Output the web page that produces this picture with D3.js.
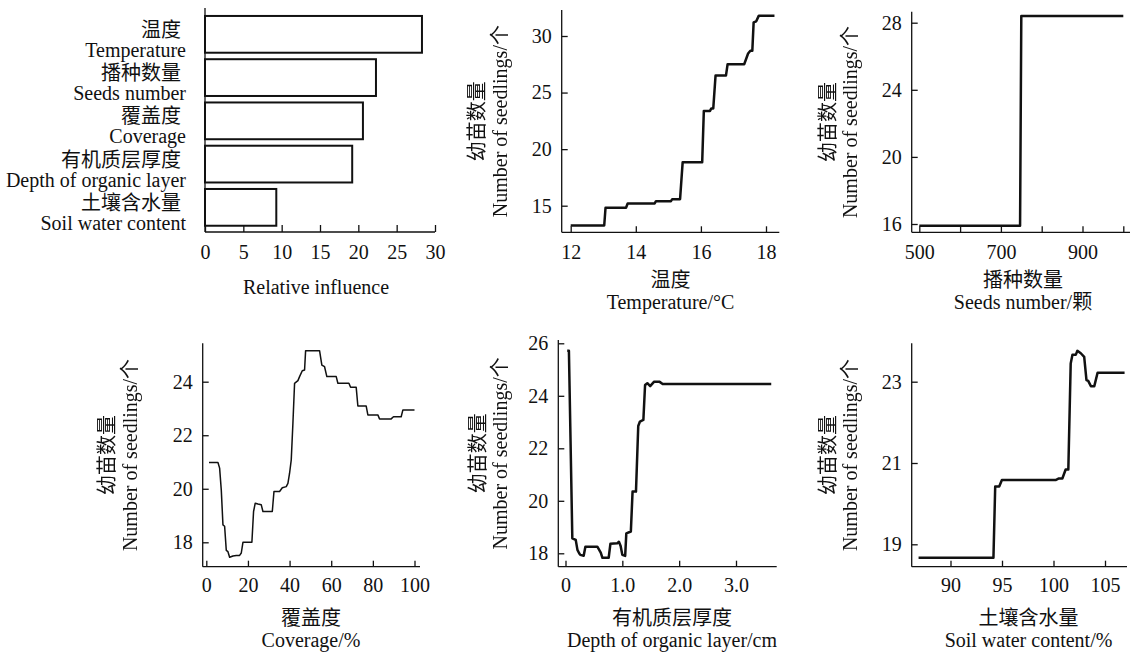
<!DOCTYPE html>
<html>
<head>
<meta charset="utf-8">
<script src="https://cdn.jsdelivr.net/npm/d3@7"></script>
<style>
body { margin: 0; background: #fff; }
svg text { font-family: "Liberation Serif", "Noto Sans CJK SC", serif; fill: #111; }
svg text.zh { font-family: "Noto Sans CJK SC", sans-serif; }
svg text.rot { filter: grayscale(100%); }
</style>
</head>
<body>
<div id="chart"></div>
<script>
// relative influence
var factorCn = ["温度", "播种数量", "覆盖度", "有机质层厚度", "土壤含水量"];
var factorEn = ["Temperature", "Seeds number", "Coverage", "Depth of organic layer", "Soil water content"];
var influence = [28.3, 22.3, 20.6, 19.2, 9.3];
var influenceTicks = [0, 5, 10, 15, 20, 25, 30];

// partial dependence curves
var tempX = [12.0, 13.03, 13.07, 13.7, 13.75, 14.58, 14.62, 15.08, 15.12, 15.36, 15.44, 16.04, 16.09, 16.28, 16.32, 16.38, 16.45, 16.77, 16.82, 17.33, 17.45, 17.52, 17.58, 17.62, 17.7, 17.78, 18.26];
var tempY = [13.25, 13.25, 14.82, 14.82, 15.2, 15.2, 15.4, 15.4, 15.58, 15.58, 18.85, 18.85, 23.38, 23.38, 23.6, 23.6, 26.5, 26.5, 27.5, 27.5, 28.45, 28.7, 28.7, 31.2, 31.3, 31.8, 31.8];

var seedsX = [500, 747, 750, 1000];
var seedsY = [15.9, 15.9, 28.4, 28.4];

var coverX = [1.3, 5.6, 6.4, 7.2, 8.0, 8.8, 9.6, 10.4, 11.2, 12.8, 14.4, 16, 16.8, 17.6, 21.9, 22.7, 23.5, 24.8, 26.4, 27.2, 31.7, 32.5, 35.2, 36.5, 38.4, 39.2, 40, 40.8, 41.6, 42.4, 44, 44.8, 46.1, 47.2, 47.7, 54.4, 55.5, 56.8, 57.9, 62.4, 63.2, 68.5, 69.3, 72, 72.8, 76.8, 77.6, 82.4, 83.2, 88.8, 89.9, 93.6, 94.4, 100];
var coverY = [20.98, 20.98, 20.77, 19.95, 18.65, 18.6, 17.7, 17.65, 17.44, 17.49, 17.51, 17.51, 17.6, 18.0, 18.0, 19.15, 19.46, 19.43, 19.4, 19.15, 19.15, 19.9, 19.9, 20.04, 20.08, 20.2, 20.58, 21.08, 22.45, 23.94, 24.04, 24.19, 24.41, 24.44, 25.16, 25.16, 24.62, 24.56, 24.19, 24.19, 23.94, 23.94, 23.79, 23.79, 23.09, 23.09, 22.76, 22.76, 22.61, 22.61, 22.69, 22.69, 22.94, 22.94];

var depthX = [0.03, 0.06, 0.12, 0.18, 0.21, 0.24, 0.26, 0.32, 0.35, 0.56, 0.62, 0.65, 0.76, 0.79, 0.91, 0.94, 0.97, 1.0, 1.05, 1.07, 1.15, 1.18, 1.24, 1.28, 1.31, 1.37, 1.4, 1.44, 1.49, 1.56, 1.65, 1.71, 3.62];
var depthY = [25.72, 25.72, 18.57, 18.51, 18.13, 18.0, 17.94, 17.91, 18.25, 18.25, 18.03, 17.83, 17.83, 18.36, 18.38, 18.44, 18.28, 17.94, 17.9, 18.76, 18.83, 20.35, 20.35, 22.85, 23.02, 23.08, 24.41, 24.48, 24.37, 24.54, 24.54, 24.45, 24.45];

var waterX = [86.9, 94.17, 94.34, 94.73, 94.99, 100.2, 100.53, 100.86, 101.18, 101.44, 101.67, 101.84, 102.16, 102.32, 102.65, 102.98, 103.2, 103.37, 103.63, 103.96, 104.28, 106.9];
var waterY = [18.67, 18.67, 20.42, 20.42, 20.58, 20.58, 20.62, 20.62, 20.84, 20.84, 23.45, 23.66, 23.66, 23.76, 23.7, 23.61, 23.04, 23.02, 22.89, 22.89, 23.22, 23.22];

var yLabelCn = "幼苗数量";
var yLabelEn = "Number of seedlings/个";

var w = 1131, h = 653;
var fs = 20;
var ink = "#111";

var svg = d3.select("#chart")
            .append("svg")
            .attr("width", w)
            .attr("height", h);

function styleAxis(sel) {
    sel.select(".domain").remove();
    sel.selectAll(".tick line").attr("stroke", ink).attr("stroke-width", 1.3);
    sel.selectAll(".tick text").attr("font-size", fs).attr("fill", ink)
       .style("font-family", '"Liberation Serif", serif');
}

function axisLine(x1, y1, x2, y2) {
    svg.append("line")
       .attr("x1", x1).attr("y1", y1).attr("x2", x2).attr("y2", y2)
       .attr("stroke", ink).attr("stroke-width", 1.3);
}

// ---------- panel 1: bar chart ----------
var bx = d3.scaleLinear().domain([0, 30]).range([205, 435]);
var by = d3.scaleBand()
           .domain(d3.range(factorCn.length))
           .range([12.5, 229.2])
           .paddingInner(0.15)
           .paddingOuter(0.08);

svg.selectAll("rect.bar")
   .data(influence)
   .enter()
   .append("rect")
   .attr("class", "bar")
   .attr("x", bx(0))
   .attr("y", function(d, i) { return by(i); })
   .attr("width", function(d) { return bx(d) - bx(0); })
   .attr("height", by.bandwidth())
   .attr("fill", "#fff")
   .attr("stroke", ink)
   .attr("stroke-width", 2);

svg.selectAll("text.cn")
   .data(factorCn)
   .enter()
   .append("text")
   .attr("class", "cn zh")
   .attr("x", 181)
   .attr("y", function(d, i) { return by(i) + by.bandwidth() / 2 - 5; })
   .attr("dy", "0.38em")
   .attr("text-anchor", "end")
   .attr("font-size", fs)
   .text(function(d) { return d; });

svg.selectAll("text.en")
   .data(factorEn)
   .enter()
   .append("text")
   .attr("class", "en")
   .attr("x", 186)
   .attr("y", function(d, i) { return by(i) + by.bandwidth() / 2 + 15.5; })
   .attr("dy", "0.35em")
   .attr("text-anchor", "end")
   .attr("font-size", fs)
   .text(function(d) { return d; });

svg.append("g")
   .attr("transform", "translate(0," + 232 + ")")
   .call(d3.axisBottom(bx).tickValues(influenceTicks).tickSizeInner(-7).tickSizeOuter(0).tickPadding(12.4))
   .call(styleAxis);
axisLine(205, 232, 435, 232);
axisLine(205, 8, 205, 232);

svg.append("text")
   .attr("x", 316).attr("y", 287).attr("dy", "0.35em")
   .attr("text-anchor", "middle").attr("font-size", fs)
   .text("Relative influence");

// ---------- partial dependence panels ----------
function anchored(a, lo, hi) {
    var s = d3.scaleLinear().domain([a[0], a[1]]).range([a[2], a[3]]);
    return d3.scaleLinear().domain([s.invert(lo), s.invert(hi)]).range([lo, hi]);
}

function panel(p) {
    var x = anchored(p.xA, p.left, p.right);
    var y = anchored(p.yA, p.bottom, p.top);

    svg.append("g")
       .attr("transform", "translate(0," + p.bottom + ")")
       .call(d3.axisBottom(x).tickValues(p.xTicks).tickFormat(p.xFmt || d3.format("d"))
               .tickSizeInner(-6).tickSizeOuter(0).tickPadding(p.xPad))
       .call(styleAxis);

    svg.append("g")
       .attr("transform", "translate(" + p.left + ",0)")
       .call(d3.axisLeft(y).tickValues(p.yTicks).tickFormat(d3.format("d"))
               .tickSizeInner(-6).tickSizeOuter(0).tickPadding(10))
       .call(styleAxis);

    axisLine(p.left, p.bottom, p.right, p.bottom);
    axisLine(p.left, p.top, p.left, p.bottom);

    var line = d3.line()
                 .x(function(d) { return x(d[0]); })
                 .y(function(d) { return y(d[1]); });

    svg.append("path")
       .datum(d3.zip(p.xs, p.ys))
       .attr("d", line)
       .attr("fill", "none")
       .attr("stroke", ink)
       .attr("stroke-width", p.lw)
       .attr("stroke-linejoin", "round");

    // y label
    var cy = (p.top + p.bottom) / 2;
    svg.append("text")
       .attr("class", "zh rot")
       .attr("transform", "translate(" + (p.left + p.yLab[0]) + "," + cy + ") rotate(-90)")
       .attr("dy", "0.38em").attr("text-anchor", "middle").attr("font-size", fs)
       .text(yLabelCn);
    svg.append("text")
       .attr("class", "rot")
       .attr("transform", "translate(" + (p.left + p.yLab[1]) + "," + cy + ") rotate(-90)")
       .attr("dy", "0.35em").attr("text-anchor", "middle").attr("font-size", fs)
       .text(yLabelEn);

    // x label
    svg.append("text")
       .attr("class", "zh")
       .attr("x", p.labX).attr("y", p.bottom + p.xLab[0]).attr("dy", "0.38em")
       .attr("text-anchor", "middle").attr("font-size", fs)
       .text(p.cn);
    svg.append("text")
       .attr("x", p.labX).attr("y", p.bottom + p.xLab[1]).attr("dy", "0.35em")
       .attr("text-anchor", "middle").attr("font-size", fs)
       .text(p.en);
}

panel({
    left: 561.7, right: 779.3, top: 10, bottom: 232.3,
    xA: [12, 18, 570.7, 766], yA: [15, 30, 205.7, 36],
    xTicks: [12, 14, 16, 18], yTicks: [15, 20, 25, 30],
    xs: tempX, ys: tempY, lw: 2.5, xPad: 12.4,
    yLab: [-85, -62], xLab: [47, 69.4], labX: 670.5,
    cn: "温度", en: "Temperature/°C"
});

panel({
    left: 911.7, right: 1130, top: 11.7, bottom: 232.3,
    xA: [500, 1000, 919.3, 1123.3], yA: [16, 28, 224, 22.7],
    xTicks: [500, 600, 700, 800, 900, 1000], yTicks: [16, 20, 24, 28],
    xFmt: function(d) { return (d - 500) % 200 === 0 ? d : ""; },
    xs: seedsX, ys: seedsY, lw: 2.5, xPad: 12.4,
    yLab: [-84, -62], xLab: [47, 69.4], labX: 1023,
    cn: "播种数量", en: "Seeds number/颗"
});

panel({
    left: 202.7, right: 420, top: 343.3, bottom: 566.7,
    xA: [0, 100, 206.3, 414.5], yA: [18, 24, 542.3, 381.7],
    xTicks: [0, 20, 40, 60, 80, 100], yTicks: [18, 20, 22, 24],
    xs: coverX, ys: coverY, lw: 1.5, xPad: 10.7,
    yLab: [-96, -73], xLab: [50.8, 73.3], labX: 311,
    cn: "覆盖度", en: "Coverage/%"
});

panel({
    left: 558.3, right: 776.7, top: 340, bottom: 566.7,
    xA: [0, 3, 565.5, 736], yA: [18, 26, 553.3, 343.3],
    xTicks: [0, 1, 2, 3], yTicks: [18, 20, 22, 24, 26],
    xFmt: function(d) { return d === 0 ? "0" : d.toFixed(1); },
    xs: depthX, ys: depthY, lw: 2.5, xPad: 10.7,
    yLab: [-81, -58], xLab: [50.8, 73.3], labX: 672,
    cn: "有机质层厚度", en: "Depth of organic layer/cm"
});

panel({
    left: 911.7, right: 1127, top: 343.3, bottom: 566.7,
    xA: [90, 105, 950.5, 1105], yA: [19, 23, 544.3, 381.7],
    xTicks: [90, 95, 100, 105], yTicks: [19, 21, 23],
    xs: waterX, ys: waterY, lw: 2.5, xPad: 10.7,
    yLab: [-84, -62], xLab: [50.8, 73.3], labX: 1028.5,
    cn: "土壤含水量", en: "Soil water content/%"
});
</script>
</body>
</html>
